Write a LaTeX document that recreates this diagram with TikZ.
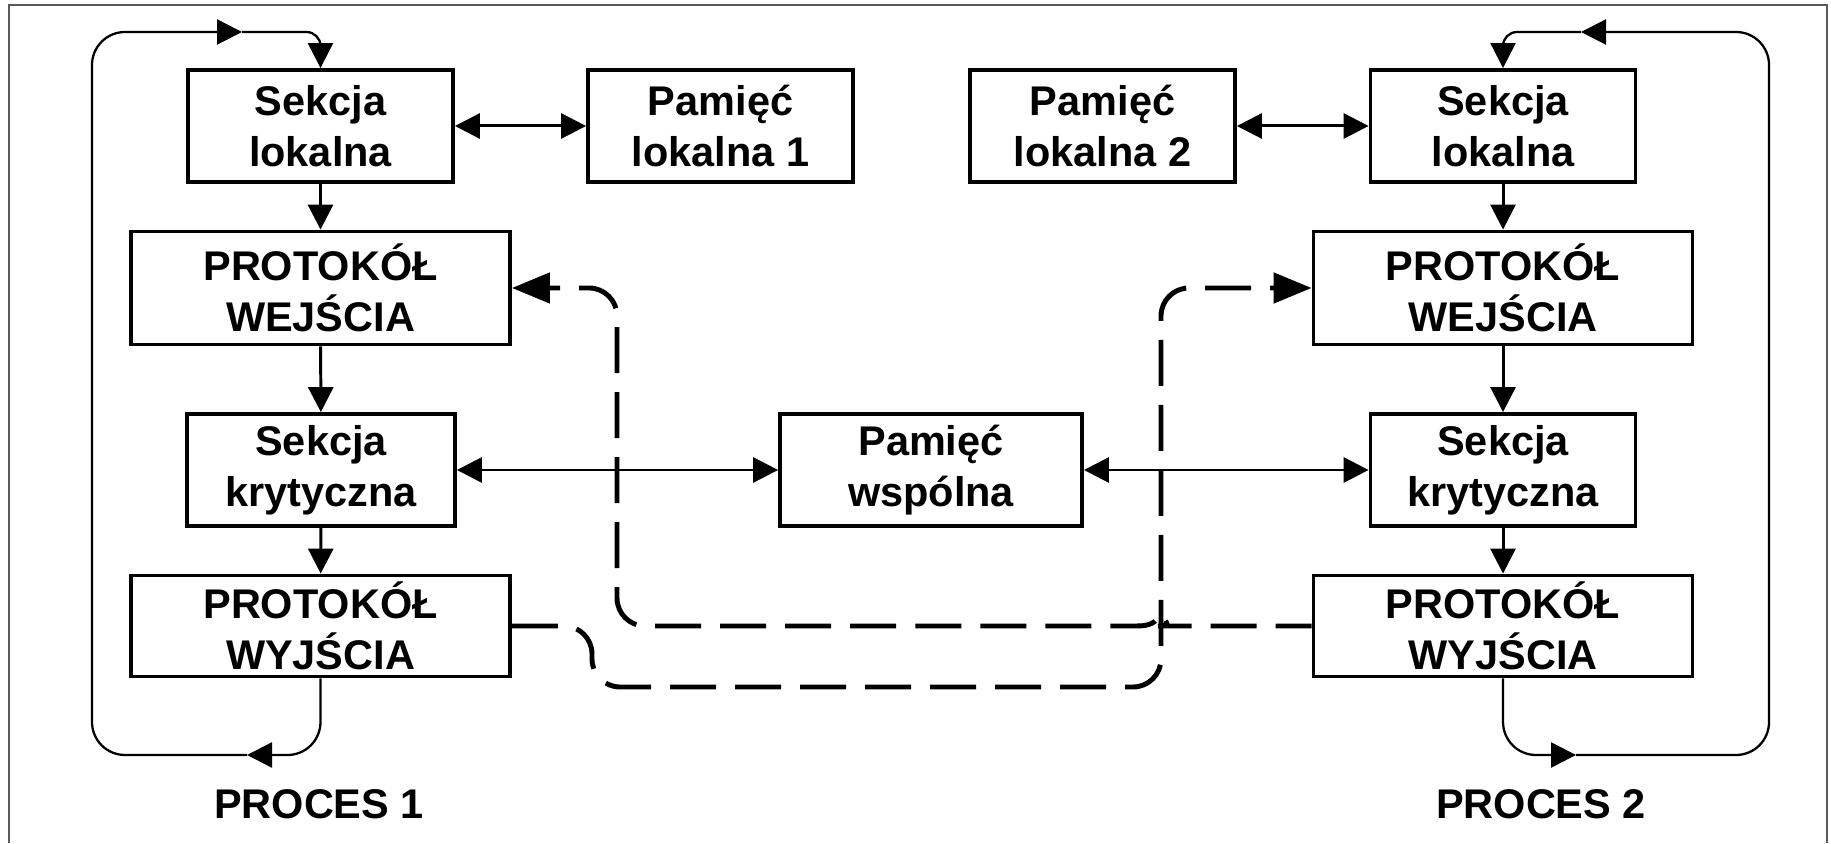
\documentclass[tikz,border=0pt]{standalone}
\usepackage{fontspec}
\setmainfont{Liberation Sans}
\usetikzlibrary{arrows.meta}

\begin{document}
\begin{tikzpicture}[
                >={Triangle[length=0.25cm, width=0.25cm]},
                blok/.style={draw=black, line width=1.1pt, inner sep=0pt, align=center,
                    font=\bfseries\fontsize{11.8}{14.5}\selectfont},
                etykieta/.style={font=\bfseries\fontsize{11.8}{14.5}\selectfont},
                strzalka/.style={line width=0.85pt},
                petla/.style={line width=0.65pt, rounded corners=0.33cm, ->},
                przerywana/.style={line width=1.4pt, dash pattern=on 0.46cm off 0.19cm,
                    rounded corners=0.28cm, -{Triangle[length=0.38cm, width=0.3cm]}},
                ramka/.style={draw=black!65, line width=0.6pt},
            ]
            \useasboundingbox (0, 0) rectangle (18.31, 8.43);
            \draw[ramka] (0.09, 0) -- (0.09, 8.38) -- (18.27, 8.38) -- (18.27, 0);

            \node[blok, minimum width=2.65cm, minimum height=1.12cm] (sl1) at (3.205, 7.17) {Sekcja\\lokalna};
            \node[blok, minimum width=3.79cm, minimum height=1.13cm] (we1) at (3.205, 5.55) {PROTOKÓŁ\\WEJŚCIA};
            \node[blok, minimum width=2.68cm, minimum height=1.12cm] (sk1) at (3.21, 3.73) {Sekcja\\krytyczna};
            \node[blok, minimum width=3.79cm, minimum height=1.01cm] (wy1) at (3.205, 2.17) {PROTOKÓŁ\\WYJŚCIA};
            \node[blok, minimum width=2.65cm, minimum height=1.12cm] (pl1) at (7.205, 7.17) {Pamięć\\lokalna 1};
            \node[blok, minimum width=3.02cm, minimum height=1.12cm] (pw) at (9.31, 3.73) {Pamięć\\wspólna};
            \node[blok, minimum width=2.65cm, minimum height=1.12cm] (pl2) at (11.025, 7.17) {Pamięć\\lokalna 2};
            \node[blok, minimum width=2.65cm, minimum height=1.12cm] (sl2) at (15.03, 7.17) {Sekcja\\lokalna};
            \node[blok, minimum width=3.79cm, minimum height=1.13cm] (we2) at (15.03, 5.55) {PROTOKÓŁ\\WEJŚCIA};
            \node[blok, minimum width=2.65cm, minimum height=1.12cm] (sk2) at (15.03, 3.73) {Sekcja\\krytyczna};
            \node[blok, minimum width=3.79cm, minimum height=1.01cm] (wy2) at (15.03, 2.17) {PROTOKÓŁ\\WYJŚCIA};
            \node[etykieta] (p1) at (3.19, 0.385) {PROCES 1};
            \node[etykieta] (p2) at (15.41, 0.385) {PROCES 2};

            \coordinate (d1) at (2.47, 0.88);
            \coordinate (g1) at (2.42, 8.11);
            \coordinate (d2) at (15.76, 0.88);
            \coordinate (g2) at (15.81, 8.11);

            \draw[strzalka, ->] (sl1) -- (we1);
            \draw[strzalka, ->] (we1) -- (sk1);
            \draw[strzalka, ->] (sk1) -- (wy1);
            \draw[strzalka, ->] (sl2) -- (we2);
            \draw[strzalka, ->] (we2) -- (sk2);
            \draw[strzalka, ->] (sk2) -- (wy2);
            \draw[strzalka, <->] (sl1) -- (pl1);
            \draw[strzalka, <->] (pl2) -- (sl2);
            \draw[strzalka, <->] (sk1) -- (pw);
            \draw[strzalka, <->] (pw) -- (sk2);

            \draw[petla] (wy1.south) |- (d1);
            \draw[petla] (d1) -| (0.92, 8.11) -- (g1);
            \draw[petla, rounded corners=0.14cm] (g1) -| (sl1.north);
            \draw[petla] (wy2.south) |- (d2);
            \draw[petla] (d2) -| (17.69, 8.11) -- (g2);
            \draw[petla, rounded corners=0.14cm] (g2) -| (sl2.north);

            \draw[przerywana] (wy1.east) -- (5.92, 2.17) -- (5.92, 1.56) -- (11.61, 1.56) -- (11.61, 5.55) -- (we2.west);
            \draw[przerywana, dash phase=0.1cm] (wy2.west) -- (11.86, 2.17) [sharp corners]
                .. controls (11.72, 2.17) and (11.66, 2.2) .. (11.61, 2.3)
                .. controls (11.56, 2.2) and (11.50, 2.17) .. (11.36, 2.17)
                [rounded corners=0.28cm] -- (6.17, 2.17) -- (6.17, 5.55) -- (we1.east);
        \end{tikzpicture}
\end{document}
